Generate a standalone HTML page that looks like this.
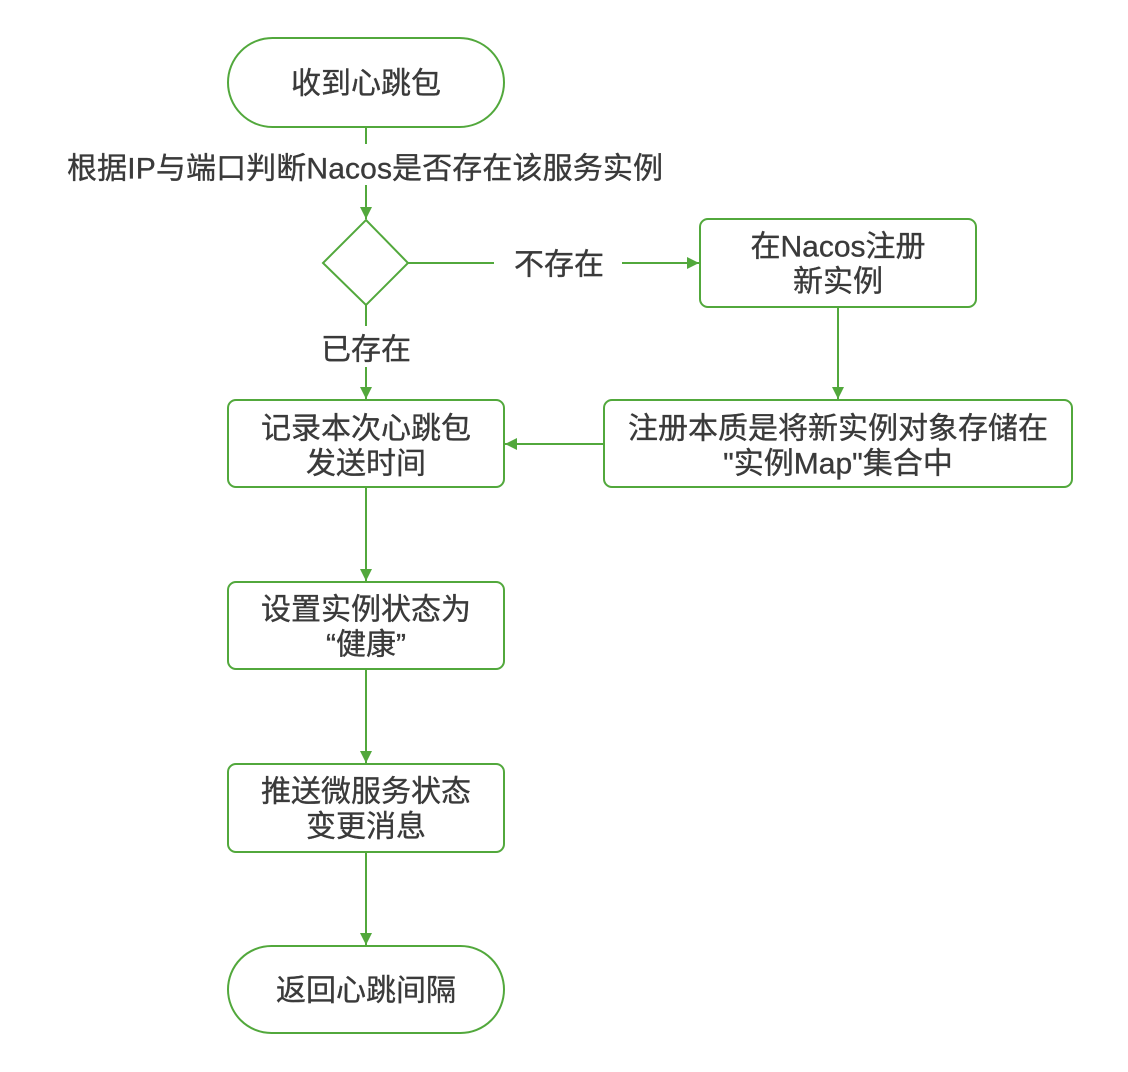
<!DOCTYPE html>
<html>
<head>
<meta charset="utf-8">
<style>
  html, body { margin:0; padding:0; background:#ffffff; }
  body { width:1128px; height:1072px; overflow:hidden; }
  svg { display:block; }
  text { font-family: "Liberation Sans", "Noto Sans CJK SC", sans-serif; font-size:30px; fill:#3a3a3a; stroke:#3a3a3a; stroke-width:0.35px; }
</style>
</head>
<body>
<svg width="1128" height="1072" viewBox="0 0 1128 1072" xmlns="http://www.w3.org/2000/svg">
  <defs>
    <marker id="ah" markerWidth="12" markerHeight="12" refX="12" refY="6" orient="auto" markerUnits="userSpaceOnUse">
      <path d="M0,0 L12,6 L0,12 Z" fill="#52a83c"/>
    </marker>
  </defs>
  <g fill="none" stroke="#52a83c" stroke-width="2">
    <!-- shapes -->
    <rect x="228" y="38" width="276" height="89" rx="44.5" ry="44.5" fill="#fff"/>
    <polygon points="366,220 408,263 366,305 323,263" fill="#fff"/>
    <rect x="700" y="219" width="276" height="88" rx="8" ry="8" fill="#fff"/>
    <rect x="604" y="400" width="468" height="87" rx="8" ry="8" fill="#fff"/>
    <rect x="228" y="400" width="276" height="87" rx="8" ry="8" fill="#fff"/>
    <rect x="228" y="582" width="276" height="87" rx="8" ry="8" fill="#fff"/>
    <rect x="228" y="764" width="276" height="88" rx="8" ry="8" fill="#fff"/>
    <rect x="228" y="946" width="276" height="87" rx="43.5" ry="43.5" fill="#fff"/>

    <!-- connectors -->
    <line x1="366" y1="127" x2="366" y2="144"/>
    <line x1="366" y1="185" x2="366" y2="219" marker-end="url(#ah)"/>
    <line x1="408" y1="263" x2="494" y2="263"/>
    <line x1="622" y1="263" x2="699" y2="263" marker-end="url(#ah)"/>
    <line x1="838" y1="307" x2="838" y2="399" marker-end="url(#ah)"/>
    <line x1="604" y1="444" x2="505" y2="444" marker-end="url(#ah)"/>
    <line x1="366" y1="305" x2="366" y2="326"/>
    <line x1="366" y1="367" x2="366" y2="399" marker-end="url(#ah)"/>
    <line x1="366" y1="487" x2="366" y2="581" marker-end="url(#ah)"/>
    <line x1="366" y1="669" x2="366" y2="763" marker-end="url(#ah)"/>
    <line x1="366" y1="852" x2="366" y2="945" marker-end="url(#ah)"/>
  </g>

  <g text-anchor="middle" dominant-baseline="central">
    <text x="366" y="84">收到心跳包</text>
    <text x="365" y="169" textLength="596" lengthAdjust="spacing">根据IP与端口判断Nacos是否存在该服务实例</text>
    <text x="559" y="265">不存在</text>
    <text x="366" y="350">已存在</text>
    <text x="838" y="247">在Nacos注册</text>
    <text x="838" y="282">新实例</text>
    <text x="838" y="429" textLength="420" lengthAdjust="spacing">注册本质是将新实例对象存储在</text>
    <text x="838" y="464">"实例Map"集合中</text>
    <text x="366" y="429">记录本次心跳包</text>
    <text x="366" y="464">发送时间</text>
    <text x="366" y="610">设置实例状态为</text>
    <text x="366" y="645">“健康”</text>
    <text x="366" y="792">推送微服务状态</text>
    <text x="366" y="827">变更消息</text>
    <text x="366" y="991">返回心跳间隔</text>
  </g>
</svg>
</body>
</html>
